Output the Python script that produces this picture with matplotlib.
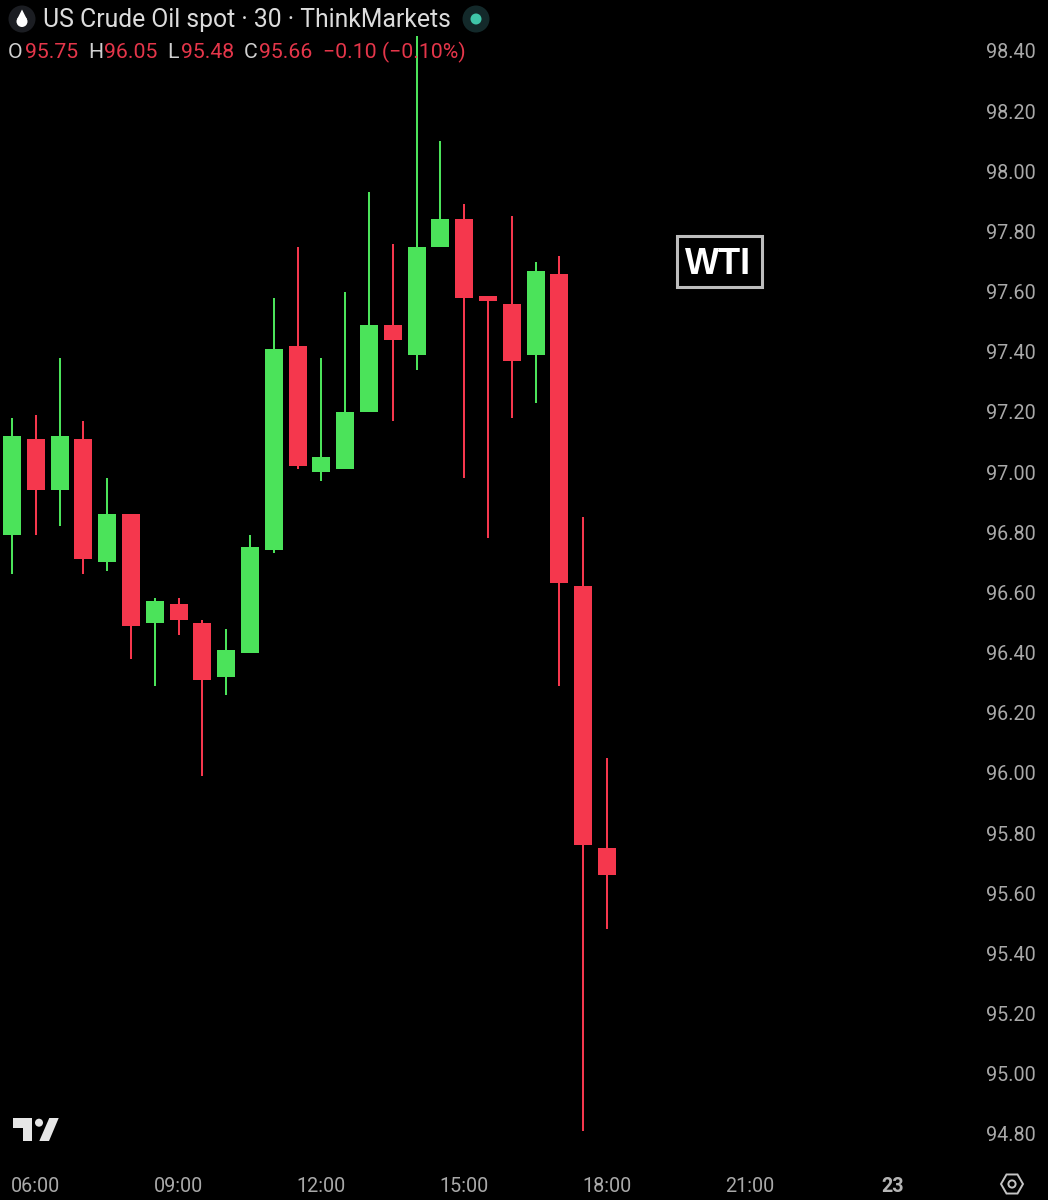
import numpy as np
import matplotlib
matplotlib.use('Agg')
import matplotlib.pyplot as plt
from matplotlib.patches import Circle, Polygon, Rectangle, RegularPolygon
from matplotlib.transforms import Affine2D

# 30 minute candles
bar_times = ['05:30', '06:00', '06:30', '07:00', '07:30', '08:00', '08:30', '09:00', '09:30',
             '10:00', '10:30', '11:00', '11:30', '12:00', '12:30', '13:00', '13:30', '14:00',
             '14:30', '15:00', '15:30', '16:00', '16:30', '17:00', '17:30', '18:00']
opens = [96.79, 97.11, 96.94, 97.11, 96.70, 96.86, 96.50, 96.56, 96.50, 96.32, 96.40, 96.74, 97.42,
         97.00, 97.01, 97.20, 97.49, 97.39, 97.75, 97.84, 97.585, 97.56, 97.39, 97.66, 96.62, 95.75]
highs = [97.18, 97.19, 97.38, 97.17, 96.98, 96.86, 96.58, 96.58, 96.51, 96.48, 96.79, 97.58, 97.75,
         97.38, 97.60, 97.93, 97.76, 98.45, 98.10, 97.89, 97.585, 97.85, 97.70, 97.72, 96.85, 96.05]
lows = [96.66, 96.79, 96.82, 96.66, 96.67, 96.38, 96.29, 96.46, 95.99, 96.26, 96.40, 96.73, 97.01,
        96.97, 97.01, 97.20, 97.17, 97.34, 97.75, 96.98, 96.78, 97.18, 97.23, 96.29, 94.81, 95.48]
closes = [97.12, 96.94, 97.12, 96.71, 96.86, 96.49, 96.57, 96.51, 96.31, 96.41, 96.75, 97.41, 97.02,
          97.05, 97.20, 97.49, 97.44, 97.75, 97.84, 97.58, 97.57, 97.37, 97.67, 96.63, 95.76, 95.66]

price_ticks = [98.4, 98.2, 98.0, 97.8, 97.6, 97.4, 97.2, 97.0, 96.8, 96.6, 96.4, 96.2, 96.0,
               95.8, 95.6, 95.4, 95.2, 95.0, 94.8]
time_ticks = [1, 7, 13, 19, 25, 31, 37]
time_labels = ['06:00', '09:00', '12:00', '15:00', '18:00', '21:00', '23']

title = 'US Crude Oil spot · 30 · ThinkMarkets'
ohlc_text = [('O', 8, 'l'), ('95.75', 25, 'r'), ('H', 88, 'l'), ('96.05', 104, 'r'),
             ('L', 167, 'l'), ('95.48', 181, 'r'), ('C', 244, 'l'), ('95.66', 259, 'r'),
             ('−0.10 (−0.10%)', 323, 'r')]

GREEN = '#4be35a'
RED = '#f5374d'
plt.rcParams['font.family'] = ['Roboto', 'DejaVu Sans']

fig = plt.figure(figsize=(10.48, 12), dpi=100, facecolor='black')
ax = fig.add_axes([0, 45 / 1200, 975 / 1048, 1155 / 1200], facecolor='black')

x = np.arange(len(bar_times))
colors = [GREEN if c >= o else RED for o, c in zip(opens, closes)]
bottoms = np.minimum(opens, closes)
heights = np.abs(np.array(closes) - np.array(opens))

ax.vlines(x, lows, highs, colors=colors, linewidth=1.45, zorder=2)
ax.bar(x, heights, bottom=bottoms, width=18 / 23.8, color=colors, linewidth=0, zorder=3)

# 23.8 px per bar, 300.8 px per 1.00 of price
ax.set_xlim(-12 / 23.8, (975 - 12) / 23.8)
ax.set_ylim(98.4 - (1155 - 51) / 300.8, 98.4 + 51 / 300.8)

ax.yaxis.tick_right()
ax.set_yticks(price_ticks)
ax.set_yticklabels(['%.2f' % p for p in price_ticks])
ax.set_xticks(time_ticks)
ax.set_xticklabels(time_labels)
ax.tick_params(axis='y', length=0, pad=8, labelsize=14.2, labelcolor='#a9a9a9')
ax.tick_params(axis='x', length=0, pad=16, labelsize=14.2, labelcolor='#a9a9a9')
ax.get_xticklabels()[-1].set_fontweight('bold')
ax.get_xticklabels()[-1].set_color('#b5b5b5')
for s in ax.spines.values():
    s.set_visible(False)

# everything below is placed in reference pixels
px = Affine2D().scale(1 / 1048, -1 / 1200).translate(0, 1) + fig.transFigure


def add(patch):
    patch.set_transform(px)
    patch.set_zorder(5)
    fig.add_artist(patch)


fig.text(43, 20, title, transform=px, color='#dcdcdc', fontsize=17.8, va='center', zorder=6)
for txt, xpos, kind in ohlc_text:
    fig.text(xpos, 52, txt, transform=px, color='#d0d0d0' if kind == 'l' else '#e5364a',
             fontsize=15.3, va='center', zorder=6)

# symbol icon
add(Circle((22, 19), 13.5, facecolor='#1b1d22', edgecolor='none'))
add(Circle((22, 21.5), 5.5, facecolor='white', edgecolor='none'))
add(Polygon([(17.2, 19), (22, 9.5), (26.8, 19)], facecolor='white', edgecolor='none'))

# market status dot
add(Circle((476, 19), 13.5, facecolor='#13292a', edgecolor='none'))
add(Circle((476, 19), 5.5, facecolor='#3fc5a8', edgecolor='none'))

# WTI box
add(Rectangle((676.5, 235.5), 85, 51.5, facecolor='black', edgecolor='#bdbdbd', linewidth=2.2))
fig.text(718.5, 264, 'WTI', transform=px, color='white', fontsize=26, fontweight='bold',
         family=['Liberation Sans'], ha='center', va='center', zorder=6)

# TradingView logo
add(Polygon([(13.3, 1118), (32.3, 1118), (32.3, 1141), (22.7, 1141), (22.7, 1128), (13.3, 1128)],
            facecolor='#e6e6e6', edgecolor='none'))
add(Circle((39, 1122.7), 4, facecolor='#e6e6e6', edgecolor='none'))
add(Polygon([(49.3, 1118), (58.7, 1118), (49, 1141), (39.3, 1141)], facecolor='#e6e6e6', edgecolor='none'))

# settings icon
add(RegularPolygon((1012, 1184), 6, radius=11, orientation=np.pi / 6, facecolor='none',
                   edgecolor='#c4c4c4', linewidth=1.4))
add(Circle((1012, 1184), 3.6, facecolor='none', edgecolor='#c4c4c4', linewidth=1.4))

fig.savefig('out.png', dpi=100, facecolor='black')
plt.close(fig)
